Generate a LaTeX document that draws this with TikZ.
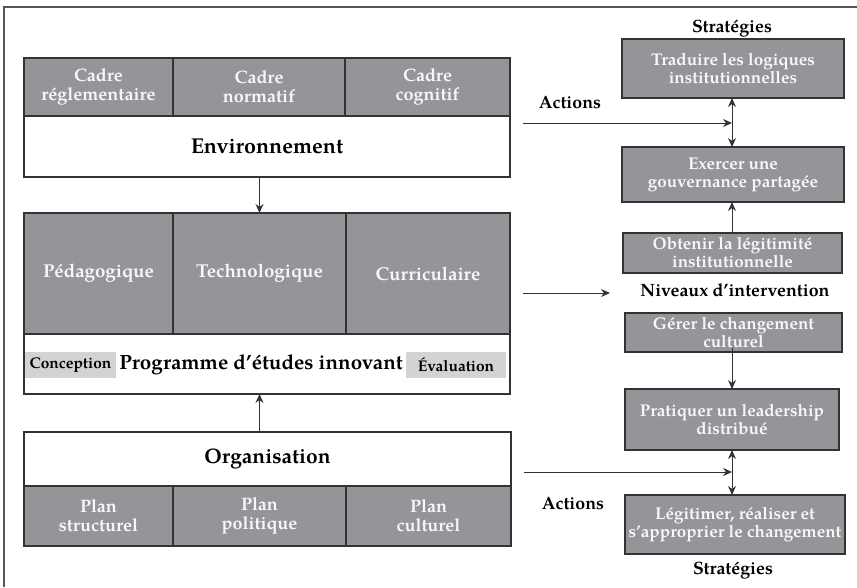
\documentclass[tikz,border=0pt]{standalone}
\usepackage{fontspec}
\setmainfont{TeX Gyre Pagella}
\usetikzlibrary{arrows.meta,calc}
\definecolor{boxgray}{HTML}{939598}
\definecolor{bd}{HTML}{333333}
\definecolor{lg}{HTML}{D1D3D4}
\definecolor{framec}{HTML}{555555}
\definecolor{wtext}{HTML}{F7F7F7}
\begin{document}
\begin{tikzpicture}[x=1pt,y=-1pt,
  gcell/.style={draw=bd,line width=1.3pt,fill=boxgray,text=wtext,inner sep=0pt,outer sep=0pt,anchor=north west,align=center},
  wcell/.style={gcell,fill=white,text=black},
  sfont/.style={font=\fontsize{18}{19}\selectfont\bfseries},
  mfont/.style={font=\fontsize{18.7}{21}\selectfont\bfseries},
  bfont/.style={font=\fontsize{21}{24}\selectfont\bfseries},
  rbox/.style={gcell,font=\fontsize{17}{18}\selectfont\bfseries},
  lab/.style={font=\fontsize{17.8}{20}\selectfont\bfseries,anchor=base,inner sep=0pt},
  tag/.style={fill=lg,inner sep=0pt,outer sep=0pt,anchor=north west,font=\fontsize{15.5}{17}\selectfont\bfseries,text=black},
  arr/.style={-{Stealth[length=9pt,width=8pt]},line width=1pt,draw=bd},
  darr/.style={{Stealth[length=9pt,width=8pt]}-{Stealth[length=9pt,width=8pt]},line width=1pt,draw=bd}]
\useasboundingbox (0,0) rectangle (857,587);
% frame
\draw[framec,line width=2pt] (4,587) -- (4,7) -- (857,7);

% Environnement table
\node[gcell,sfont,minimum width=149pt,minimum height=58pt] (cr) at (24,58) {Cadre\\réglementaire};
\node[gcell,sfont,minimum width=172pt,minimum height=58pt] (cn) at (173,58) {Cadre\\normatif};
\node[gcell,sfont,minimum width=165pt,minimum height=58pt] (cc) at (345,58) {Cadre\\cognitif};
\node[wcell,font=\fontsize{21.5}{24}\selectfont\bfseries,minimum width=486pt,minimum height=61pt] (env) at (24,116) {Environnement};

% Programme table
\node[gcell,mfont,minimum width=149pt,minimum height=121pt] (ped) at (24,213) {Pédagogique};
\node[gcell,mfont,minimum width=173pt,minimum height=121pt] (tech) at (173,213) {Technologique};
\node[gcell,mfont,minimum width=164pt,minimum height=121pt] (cur) at (346,213) {Curriculaire};
\node[wcell,minimum width=486pt,minimum height=60pt] (prog) at (24,334) {};
\node[tag,minimum width=91pt,minimum height=26pt] (conc) at (25,352) {Conception};
\node[tag,minimum width=100pt,minimum height=26pt] (eval) at (406,352) {Évaluation};
\node[font=\fontsize{20.6}{24}\selectfont\bfseries,inner sep=0pt] (progt) at (261,365) {Programme d'études innovant};

% Organisation table
\node[wcell,bfont,minimum width=487pt,minimum height=54pt] (org) at (24,432) {Organisation};
\node[gcell,sfont,minimum width=149pt,minimum height=60pt] (ps) at (24,486) {Plan\\structurel};
\node[gcell,sfont,minimum width=173pt,minimum height=60pt] (pp) at (173,486) {Plan\\politique};
\node[gcell,sfont,minimum width=165pt,minimum height=60pt] (pc) at (346,486) {Plan\\culturel};

\draw[arr] (env.south -| tech.north) -- (tech.north);
\draw[arr] (org.north -| pp.north) -- (prog.south -| pp.north);

% right column
\node[rbox,minimum width=222pt,minimum height=59pt] (b1) at (622,39) {Traduire les logiques\\institutionnelles};
\node[rbox,minimum width=222pt,minimum height=55pt] (b2) at (622,147) {Exercer une\\gouvernance partagée};
\node[rbox,minimum width=219pt,minimum height=40pt] (b3) at (623,233) {Obtenir la légitimité\\institutionnelle};
\node[rbox,minimum width=217pt,minimum height=39pt] (b4) at (625,313) {Gérer le changement\\culturel};
\node[rbox,minimum width=214pt,minimum height=61pt] (b5) at (625,389) {Pratiquer un leadership\\distribué};
\node[rbox,minimum width=220pt,minimum height=59pt] (b6) at (625,495) {Légitimer, réaliser et\\s'approprier le changement};

\node[lab] (st1) at (732,32) {Stratégies};
\node[lab] (ac1) at (570,108) {Actions};
\node[lab] (niv) at (735,296) {Niveaux d'intervention};
\node[lab] (ac2) at (573,509) {Actions};
\node[lab] (st2) at (733,574) {Stratégies};

\coordinate (a1s) at (523,123);
\coordinate (a1e) at (732,123);
\coordinate (n1s) at (523,293);
\coordinate (n1e) at (610,293);
\coordinate (a2s) at (524,472);
\coordinate (a2e) at (732,472);
\coordinate (vx) at (732,0);

\draw[darr] (b1.south -| vx) -- (b2.north -| vx);
\draw[arr] (a1s) -- (a1e);
\draw[arr] (b3.north -| vx) -- (b2.south -| vx);
\draw[arr] (n1s) -- (n1e);
\draw[arr] ([yshift=4pt]b4.south -| vx) -- (b5.north -| vx);
\draw[darr] (b5.south -| vx) -- (b6.north -| vx);
\draw[arr] (a2s) -- (a2e);
\end{tikzpicture}
\end{document}
